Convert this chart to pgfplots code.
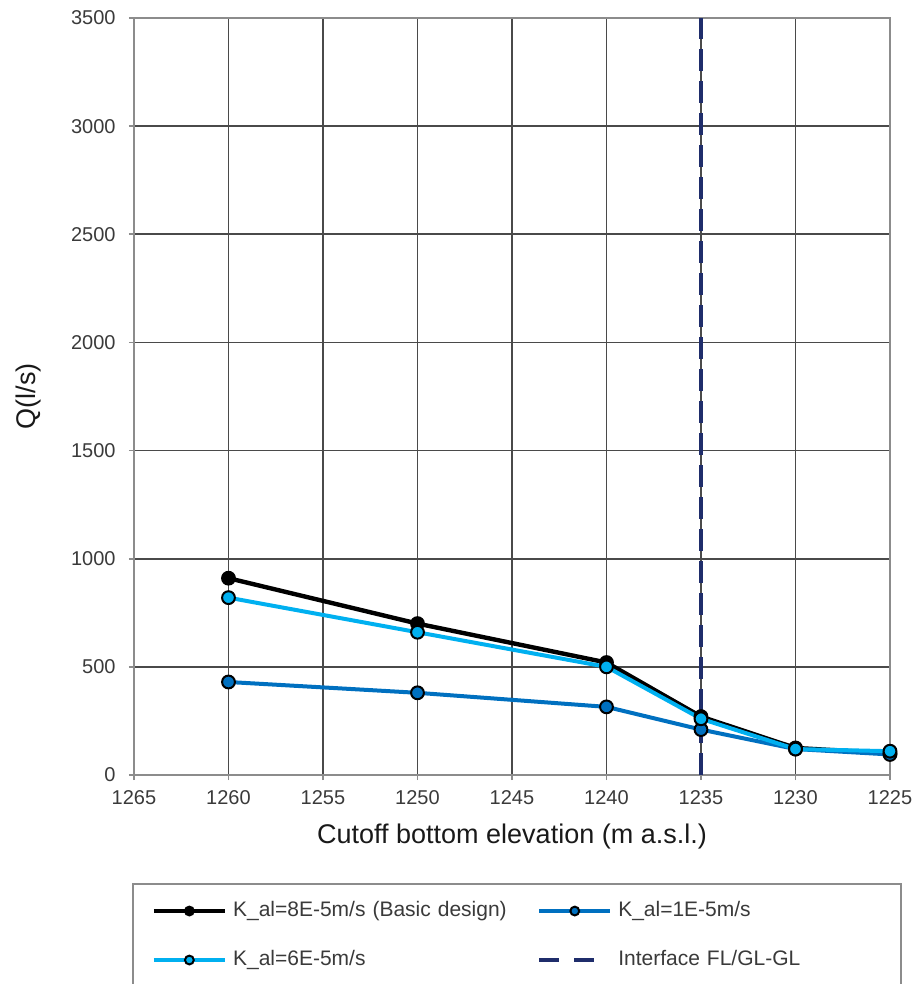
\documentclass[border=0pt]{standalone}
\usepackage{fontspec}
\setmainfont{Liberation Sans}
\usepackage{pgfplots}
\pgfplotsset{compat=1.18}
\definecolor{kblack}{HTML}{000000}
\definecolor{kdark}{HTML}{0070C0}
\definecolor{klight}{HTML}{00B0F0}
\definecolor{knavy}{HTML}{1F2D6B}
\definecolor{gridc}{HTML}{4A4A4A}
\definecolor{axc}{HTML}{8C8C8C}
\definecolor{labc}{HTML}{3A3A3A}
\begin{document}
\begin{tikzpicture}
\useasboundingbox (-67pt,-104.5pt) rectangle (392.5pt,387.5pt);
\begin{axis}[
  at={(0pt,0pt)}, anchor=south west,
  scale only axis,
  width=378pt, height=378.5pt,
  xmin=1225, xmax=1265, ymin=0, ymax=3500,
  x dir=reverse,
  xtick distance=5, ytick distance=500,
  grid=major,
  major grid style={gridc, line width=0.9pt},
  axis line style={axc, line width=1pt},
  tick style={axc, line width=0.9pt},
  tick align=outside,
  major tick length=2.5pt,
  xtick pos=bottom, ytick pos=left,
  /pgf/number format/assume math mode=true,
  /pgf/number format/1000 sep={},
  ticklabel style={font=\fontsize{10pt}{12pt}\selectfont, text=labc},
  xticklabel style={yshift=-1.7pt},
  yticklabel style={xshift=-3.2pt},
  xlabel={Cutoff bottom elevation (m a.s.l.)},
  ylabel={Q(l/s)},
  every axis x label/.style={at={(axis description cs:0.5,-0.0806)}, anchor=center, font=\fontsize{13.5pt}{16pt}\selectfont, text=black!90},
  every axis y label/.style={at={(axis description cs:-0.140,0.5)}, anchor=center, rotate=90, font=\fontsize{13.5pt}{16pt}\selectfont, text=black!90},
  legend columns=2,
  legend style={
    at={(axis description cs:0.5066,-0.1427)}, anchor=north,
    draw=axc, line width=1pt,
    font=\fontsize{10.5pt}{12pt}\selectfont,
    text=labc,
    nodes={inner sep=0pt, text height=7.5pt, text depth=2.5pt},
    /tikz/every odd column/.append style={column sep=3pt},
    /tikz/column 2/.style={column sep=10pt, nodes={text width=142pt, align=left}},
    /tikz/column 4/.style={nodes={text width=132pt, align=left}},
    row sep=14.5pt,
    inner xsep=9.5pt, inner ysep=8.5pt,
  },
  legend image code/.code={\draw[mark repeat=2,mark phase=2,mark size=2.2pt,#1] plot coordinates {(0pt,0pt)(17.75pt,0pt)(35.5pt,0pt)};},
]
\addplot[kblack, line width=2.2pt, mark=*, mark size=3.2pt, mark options={fill=kblack, draw=black, line width=1pt}]
  coordinates {(1260,910) (1250,700) (1240,520) (1235,270) (1230,125) (1225,100)};
\addlegendentry{K\_al=8E-5m/s (Basic design)}
\addplot[kdark, line width=2pt, mark=*, mark size=3.2pt, mark options={fill=kdark, draw=black, line width=1pt}]
  coordinates {(1260,430) (1250,380) (1240,315) (1235,210) (1230,120) (1225,95)};
\addlegendentry{K\_al=1E-5m/s}
\addplot[klight, line width=2pt, mark=*, mark size=3.2pt, mark options={fill=klight, draw=black, line width=1pt}]
  coordinates {(1260,820) (1250,660) (1240,500) (1235,260) (1230,120) (1225,110)};
\addlegendentry{K\_al=6E-5m/s}
\addplot[knavy, line width=1.6pt, dash pattern=on 11pt off 5pt,
  legend image code/.code={\draw[knavy, line width=2.2pt, dash pattern=on 10pt off 7.5pt] (0pt,0pt) -- (27.5pt,0pt); \path (35.5pt,0pt);}]
  coordinates {(1235,0) (1235,3500)};
\addlegendentry{Interface FL/GL-GL}
\end{axis}
\end{tikzpicture}
\end{document}
